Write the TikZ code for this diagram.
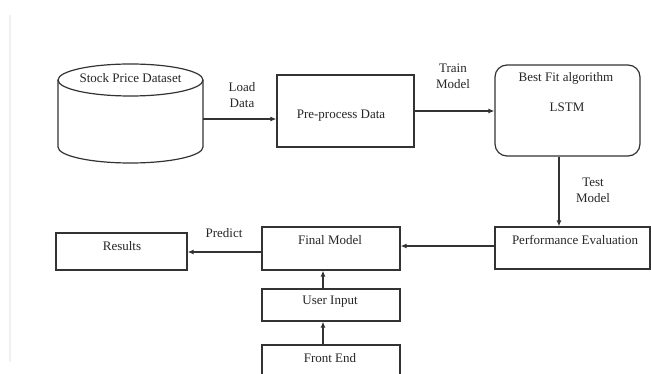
\documentclass[tikz,border=0pt]{standalone}
\usepackage{fontspec}
\setmainfont{Liberation Serif}
\usetikzlibrary{arrows.meta}
\begin{document}
\begin{tikzpicture}[x=1pt,y=-1pt,
  every node/.style={font=\fontsize{13}{16}\selectfont, text=black!85},
  ln/.style={draw=black!80, line width=1.2pt},
  box/.style={ln, rectangle, inner sep=0pt},
  arr/.style={ln, -{Latex[length=6pt,width=5pt]}},
  lbl/.style={align=center, inner sep=0pt}]
\useasboundingbox (0,0) rectangle (651,374);
\fill[white] (0,0) rectangle (651,374);
\draw[gray!12, line width=1.5pt] (10,15) -- (10,362);

% cylinder
\node[inner sep=0pt, minimum width=145pt, minimum height=99pt] (db) at (130.5,113.5) {};
\draw[ln] (130.5,80) ellipse [x radius=72.5pt, y radius=16pt];
\draw[ln] (58,80) -- (58,147) arc[start angle=180, end angle=360, x radius=72.5pt, y radius=16pt] -- (203,80);
\node[lbl] (dbt) at (130.5,78) {Stock Price Dataset};

% boxes
\node[box, minimum width=137pt, minimum height=72pt] (pre) at (345.5,111) {};
\node[lbl] (pret) at (341,116) {Pre-process Data};

\node[box, rounded corners=12pt, minimum width=145pt, minimum height=91pt] (lstm) at (567.5,110.5) {};
\node[lbl] (lstmt1) at (566,78) {Best Fit algorithm};
\node[lbl] (lstmt2) at (567,107) {LSTM};

\node[box, minimum width=155pt, minimum height=42pt] (perf) at (572.5,248) {};
\node[lbl] (perft) at (575,240) {Performance Evaluation};

\node[box, minimum width=138pt, minimum height=43pt] (final) at (331,248.5) {};
\node[lbl] (finalt) at (330,240) {Final Model};

\node[box, minimum width=138pt, minimum height=32pt] (user) at (331,305) {};
\node[lbl] (usert) at (330,302) {User Input};

\node[box, minimum width=138pt, minimum height=60pt] (front) at (331,375) {};
\node[lbl] (frontt) at (330,358) {Front End};

\node[box, minimum width=131pt, minimum height=37pt] (res) at (121.5,251.5) {};
\node[lbl] (rest) at (122,246) {Results};

% connectors
\coordinate (a1) at (203,119);
\draw[arr] (a1) -- (a1 -| pre.west);
\draw[arr] (pre.east) -- (pre.east -| lstm.west);
\draw[arr] ([xshift=-8.5pt]lstm.south) -- ([xshift=-8.5pt]lstm.south |- perf.north);
\draw[arr] ([yshift=2pt]perf.west) -- ([yshift=2pt]perf.west -| final.east);
\draw[arr] ([yshift=-3.5pt]final.west) -- ([yshift=-3.5pt]final.west -| res.east);
\draw[arr] ([xshift=-8pt]user.north) -- ([xshift=-8pt]final.south);
\draw[arr] ([xshift=-8pt]front.north) -- ([xshift=-8pt]user.south);

% labels
\node[lbl] (l1) at (242,95) {Load\\Data};
\node[lbl] (l2) at (453,76) {Train\\Model};
\node[lbl] (l3) at (593,190) {Test\\Model};
\node[lbl] (l4) at (224,233) {Predict};
\end{tikzpicture}
\end{document}
